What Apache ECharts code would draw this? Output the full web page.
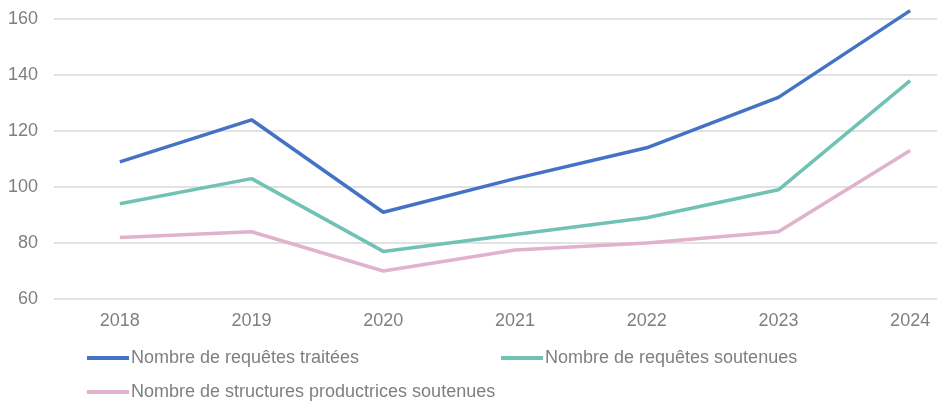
<!DOCTYPE html>
<html>
<head>
<meta charset="utf-8">
<script src="https://cdn.jsdelivr.net/npm/echarts@6/dist/echarts.min.js"></script>
<style>
  html, body { margin: 0; padding: 0; background: #fff; }
  #chart { width: 937px; height: 401px; }
</style>
</head>
<body>
<div id="chart"></div>
<script>
var years = ["2018", "2019", "2020", "2021", "2022", "2023", "2024"];
var requetesTraitees = [109, 124, 91, 103, 114, 132, 163];
var requetesSoutenues = [94, 103, 77, 83, 89, 99, 138];
var structuresSoutenues = [82, 84, 70, 77.5, 80, 84, 113];

var names = [
  "Nombre de requêtes traitées",
  "Nombre de requêtes soutenues",
  "Nombre de structures productrices soutenues"
];
var colors = ["#4472c4", "#70c2b4", "#e0b2cc"];

var chart = echarts.init(document.getElementById("chart"));

function legendAt(name, left, top) {
  return {
    data: [name],
    left: left,
    top: top,
    icon: "rect",
    itemWidth: 42,
    itemHeight: 4,
    itemGap: 0,
    padding: 0,
    textStyle: {
      fontFamily: "Liberation Sans, Arial, sans-serif",
      fontSize: 18,
      color: "#7f7f7f",
      padding: [0, 0, 0, -3]
    }
  };
}

chart.setOption({
  animation: false,
  color: colors,
  grid: {
    left: 54,
    top: 19,
    width: 922,
    height: 280,
    outerBoundsMode: "none",
    containLabel: false
  },
  legend: [
    legendAt(names[0], 87, 349),
    legendAt(names[1], 501, 349),
    legendAt(names[2], 87, 383)
  ],
  xAxis: {
    type: "category",
    data: years,
    boundaryGap: true,
    axisLine: { show: false },
    axisTick: { show: false },
    axisLabel: {
      margin: 13,
      fontFamily: "Liberation Sans, Arial, sans-serif",
      fontSize: 18,
      color: "#7f7f7f"
    }
  },
  yAxis: {
    type: "value",
    min: 60,
    max: 160,
    interval: 20,
    axisLine: { show: false },
    axisTick: { show: false },
    splitLine: { lineStyle: { color: "#d9d9d9", width: 1.5 } },
    axisLabel: {
      margin: 16,
      fontFamily: "Liberation Sans, Arial, sans-serif",
      fontSize: 18,
      color: "#7f7f7f"
    }
  },
  series: [
    {
      name: names[0],
      type: "line",
      data: requetesTraitees,
      symbol: "none",
      clip: false,
      lineStyle: { width: 3.5, color: colors[0] }
    },
    {
      name: names[1],
      type: "line",
      data: requetesSoutenues,
      symbol: "none",
      clip: false,
      lineStyle: { width: 3.5, color: colors[1] }
    },
    {
      name: names[2],
      type: "line",
      data: structuresSoutenues,
      symbol: "none",
      clip: false,
      lineStyle: { width: 3.5, color: colors[2] }
    }
  ]
});
</script>
</body>
</html>
